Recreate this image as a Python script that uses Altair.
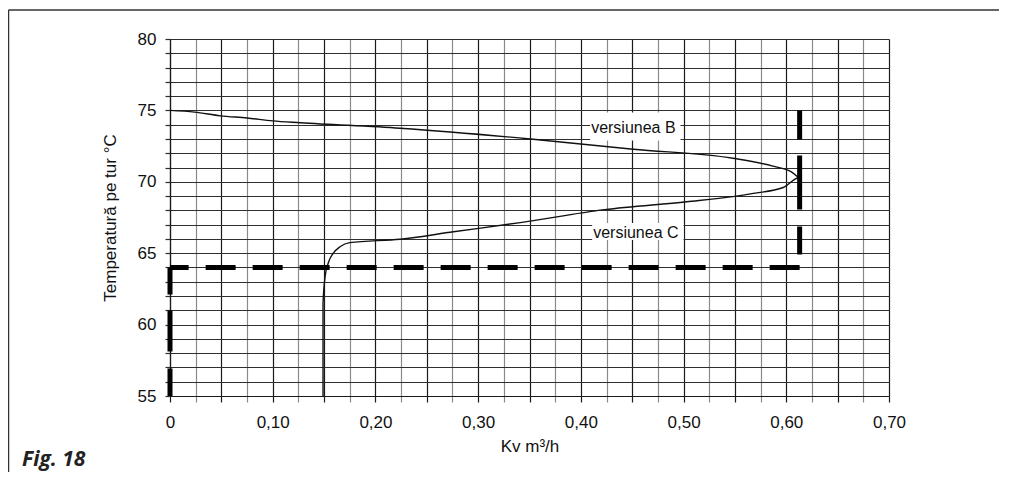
import altair as alt
import pandas as pd
import numpy as np

# Curve (Kv m3/h vs flow temperature)
kv = [0.0, 0.024, 0.049, 0.075, 0.100, 0.127, 0.224, 0.351, 0.451, 0.548, 0.587, 0.605, 0.613,
      0.597, 0.568, 0.548, 0.503, 0.423, 0.341, 0.276, 0.224, 0.175, 0.1655, 0.159, 0.154, 0.151,
      0.149, 0.149]
temp = [75.0, 74.88, 74.62, 74.47, 74.27, 74.14, 73.75, 73.0, 72.28, 71.65, 71.1, 70.7, 70.3,
        69.6, 69.19, 68.96, 68.6, 68.05, 67.14, 66.5, 65.98, 65.74, 65.45, 65.0, 64.3, 63.35,
        61.5, 55.0]

# Reference (dashed) lines
ref_kv = 0.613
ref_t_low = 64.0
ref_t_high = 75.0

# Labels
label_text = ["versiunea B", "versiunea C"]
label_kv = [0.410, 0.412]
label_t = [73.44, 66.04]
box_kv1 = [0.409, 0.411]
box_kv2 = [0.497, 0.500]
box_t1 = [72.9, 65.93]
box_t2 = [74.85, 67.12]

x_ticks = [round(v, 3) for v in np.arange(0, 0.7001, 0.025)]
y_ticks = list(range(55, 81))

FONT = "Liberation Sans"

curve = pd.DataFrame({"kv": kv, "t": temp, "i": range(len(kv))})
x_scale = alt.Scale(domain=[0, 0.7], nice=False, zero=False)
y_scale = alt.Scale(domain=[55, 80], nice=False, zero=False)

x_axis = alt.Axis(
    values=x_ticks, tickCount=200, title="Kv m³/h", grid=True,
    gridColor={"condition": {"test": "round(datum.value*40) % 2 == 1", "value": "#8a8a8a"}, "value": "#1a1a1a"},
    tickColor={"condition": {"test": "round(datum.value*40) % 2 == 1", "value": "#8a8a8a"}, "value": "#1a1a1a"},
    gridWidth=1.2, tickWidth=1.2, tickSize=6, domainColor="#1a1a1a", domainWidth=1.2,
    labelExpr="round(datum.value*40) % 4 == 0 ? (datum.value == 0 ? '0' : replace(format(datum.value, '.2f'), '.', ',')) : ''",
    labelOverlap=False, labelFlush=False, labelPadding=12, labelFontSize=17, labelFont=FONT,
    labelColor="#111", titleFont=FONT, titleFontSize=17, titleFontWeight="normal",
    titleColor="#111", titlePadding=8,
)
y_axis = alt.Axis(
    values=y_ticks, tickCount=200, title="Temperatură pe tur °C", grid=True,
    gridColor="#2e2e2e", gridWidth=1.2, tickColor="#2e2e2e", tickWidth=1.2, tickSize=5,
    domainColor="#1a1a1a", domainWidth=1.2,
    labelExpr="datum.value % 5 == 0 ? format(datum.value, 'd') : ''",
    labelOverlap=False, labelFlush=False, labelPadding=9, labelFontSize=17, labelFont=FONT,
    labelColor="#111", titleFont=FONT, titleFontSize=17, titleFontWeight="normal",
    titleColor="#111", titlePadding=18,
)

line = alt.Chart(curve).mark_line(color="#111", strokeWidth=1.4, interpolate="monotone").encode(
    x=alt.X("kv:Q", scale=x_scale, axis=x_axis),
    y=alt.Y("t:Q", scale=y_scale, axis=y_axis),
    order="i:O",
)

refs = pd.DataFrame({"kv": [ref_kv], "kv0": [0.0], "tl": [ref_t_low], "th": [ref_t_high], "tb": [55.0]})
h_dash = alt.Chart(refs).mark_rule(color="black", strokeWidth=5, strokeDash=[30, 17]).encode(
    x="kv:Q", x2="kv0:Q", y="tl:Q")
v_right = alt.Chart(refs).mark_rule(color="black", strokeWidth=5, strokeDash=[29, 16, 54, 17, 28, 30]).encode(
    x="kv:Q", y="th:Q", y2="tl:Q")
v_left = alt.Chart(refs).mark_rule(color="black", strokeWidth=5, strokeDash=[27, 16, 41, 17, 30]).encode(
    x="kv0:Q", y="tl:Q", y2="tb:Q")

labels = pd.DataFrame({"txt": label_text, "kv": label_kv, "t": label_t,
                       "b1": box_kv1, "b2": box_kv2, "t1": box_t1, "t2": box_t2})
boxes = alt.Chart(labels).mark_rect(color="white").encode(
    x="b1:Q", x2="b2:Q", y="t1:Q", y2="t2:Q")
texts = alt.Chart(labels).mark_text(align="left", baseline="alphabetic", font=FONT,
                                     fontSize=16, color="#111").encode(
    x="kv:Q", y="t:Q", text="txt:N")

dummy = pd.DataFrame({"a": [0]})
frame_left = alt.Chart(dummy).mark_rule(color="#333", strokeWidth=1.5).encode(
    x=alt.value(-161.5), y=alt.value(-29), y2=alt.value(500))
frame_top = alt.Chart(dummy).mark_rule(color="#333", strokeWidth=1.5).encode(
    x=alt.value(-161.5), x2=alt.value(900), y=alt.value(-29))
fig = alt.Chart(dummy).mark_text(align="left", baseline="alphabetic", font="Open Sans",
                                  fontSize=21, fontWeight="bold", fontStyle="italic",
                                  color="#222", text="Fig. 18").encode(
    x=alt.value(-148), y=alt.value(427))

chart = alt.layer(line, boxes, texts, h_dash, v_right, v_left, frame_left, frame_top, fig).properties(
    width=719, height=357,
    padding={"left": 162, "top": 31, "right": 110, "bottom": 76},
    autosize=alt.AutoSizeParams(type="none"),
).configure_view(strokeWidth=0)

chart.save("out.html", embed_options={"renderer": "svg", "actions": False})
